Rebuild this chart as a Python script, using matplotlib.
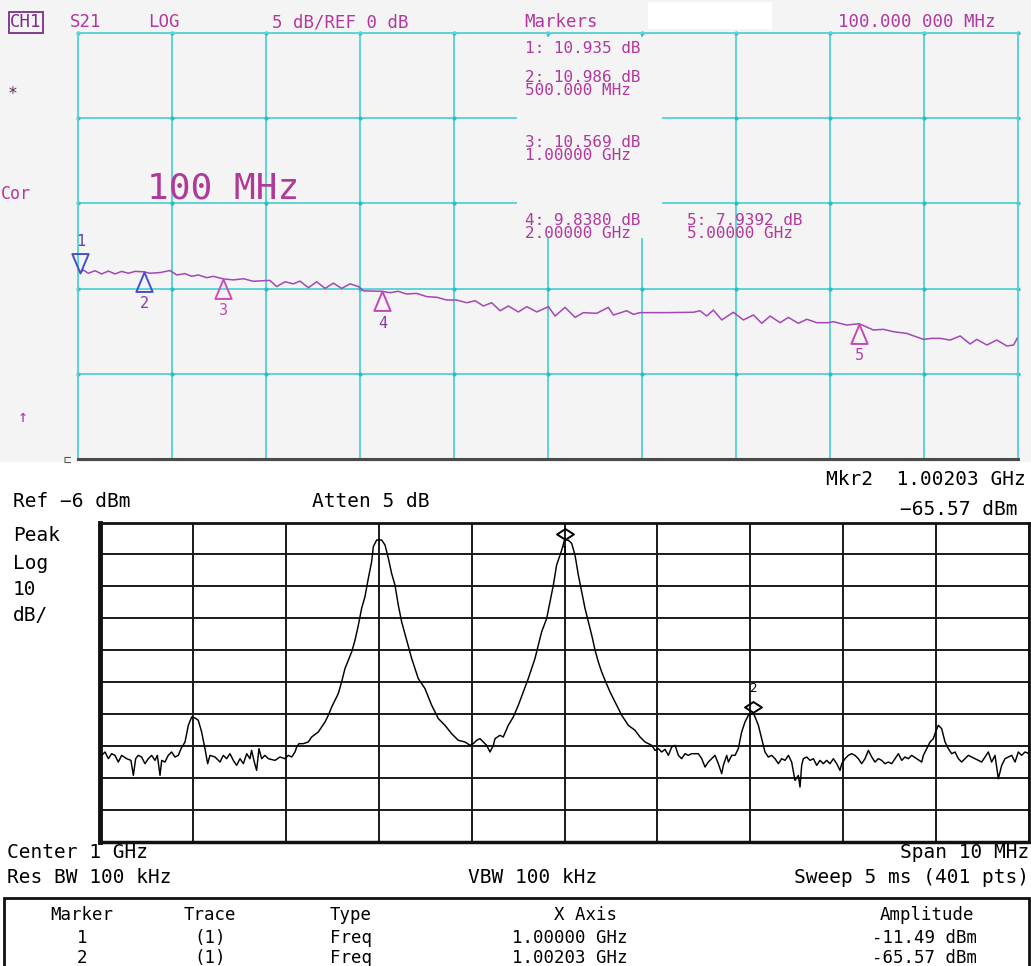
import numpy as np
import matplotlib
matplotlib.use("Agg")
import matplotlib.pyplot as plt
from matplotlib.path import Path
from matplotlib.patches import Rectangle

# ---------------- Network analyzer (S21, LOG) data ----------------
na_freq_ghz = [0.100, 0.119, 0.150, 0.192, 0.234, 0.276, 0.318, 0.360, 0.402, 0.444,
               0.500, 0.538, 0.601, 0.664, 0.706, 0.758, 0.800, 0.842, 0.895, 0.937,
               1.000, 1.063, 1.126, 1.188, 1.262, 1.293, 1.335, 1.388, 1.440, 1.482,
               1.535, 1.587, 1.640, 1.692, 1.744, 1.797, 1.849, 1.881, 2.000, 2.049,
               2.101, 2.153, 2.216, 2.279, 2.342, 2.405, 2.468, 2.531, 2.584, 2.636,
               2.688, 2.741, 2.793, 2.856, 2.909, 2.972, 3.045, 3.087, 3.150, 3.213,
               3.265, 3.349, 3.422, 3.454, 3.538, 3.580, 3.622, 3.790, 3.957, 3.999,
               4.041, 4.083, 4.136, 4.209, 4.272, 4.335, 4.388, 4.440, 4.503, 4.555,
               4.618, 4.671, 4.734, 4.807, 4.838, 4.922, 5.000, 5.090, 5.153, 5.216,
               5.300, 5.405, 5.458, 5.510, 5.573, 5.636, 5.699, 5.741, 5.804, 5.867,
               5.930, 5.972, 5.995]
na_s21_db = [10.935, 11.09, 10.90, 11.05, 10.86, 11.03, 10.86, 11.01, 10.90, 11.01,
             10.986, 10.90, 10.94, 11.06, 10.80, 10.88, 10.72, 10.80, 10.64, 10.72,
             10.569, 10.51, 10.58, 10.43, 10.47, 10.48, 10.12, 10.40, 10.28, 10.44,
             10.05, 10.40, 10.01, 10.32, 10.01, 10.28, 10.12, 9.87, 9.838, 9.76,
             9.84, 9.68, 9.72, 9.53, 9.49, 9.33, 9.33, 9.17, 9.29, 8.98,
             9.17, 8.70, 8.98, 8.63, 8.94, 8.63, 8.94, 8.39, 8.90, 8.31,
             8.59, 8.55, 8.90, 8.45, 8.70, 8.49, 8.59, 8.59, 8.61, 8.70,
             8.39, 8.74, 8.16, 8.61, 8.16, 8.45, 7.96, 8.39, 8.00, 8.31,
             7.96, 8.20, 8.00, 8.00, 8.06, 7.86, 7.9392, 7.57, 7.61, 7.47,
             7.37, 7.02, 7.08, 7.08, 6.98, 7.22, 6.75, 7.02, 6.69, 6.98,
             6.63, 6.69, 7.08]
na_marker_freq_ghz = [0.1, 0.5, 1.0, 2.0, 5.0]
na_marker_db = [10.935, 10.986, 10.569, 9.838, 7.9392]
na_scale_db_div = 5
na_ref_db = 0

# ---------------- Spectrum analyzer data ----------------
sa_freq_mhz = [995.000, 995.018, 995.054, 995.090, 995.125, 995.161, 995.197, 995.233, 995.287, 995.333,
               995.359, 995.384, 995.412, 995.448, 995.484, 995.520, 995.556, 995.592, 995.617, 995.646,
               995.664, 995.699, 995.735, 995.771, 995.807, 995.843, 995.872, 995.915, 995.951, 995.987,
               996.022, 996.058, 996.094, 996.130, 996.159, 996.184, 996.238, 996.292, 996.327, 996.363,
               996.399, 996.435, 996.471, 996.507, 996.543, 996.579, 996.614, 996.632, 996.661, 996.686,
               996.711, 996.740, 996.776, 996.812, 996.884, 996.937, 996.991, 997.027, 997.063, 997.099,
               997.117, 997.142, 997.189, 997.242, 997.278, 997.350, 997.422, 997.458, 997.494, 997.529,
               997.565, 997.601, 997.637, 997.673, 997.709, 997.745, 997.781, 997.816, 997.852, 997.888,
               997.924, 997.942, 997.978, 998.032, 998.068, 998.104, 998.139, 998.175, 998.211, 998.247,
               998.301, 998.355, 998.426, 998.498, 998.570, 998.642, 998.713, 998.785, 998.857, 998.929,
               998.983, 999.018, 999.054, 999.090, 999.126, 999.162, 999.198, 999.234, 999.252, 999.305,
               999.341, 999.395, 999.449, 999.503, 999.557, 999.610, 999.646, 999.682, 999.718, 999.754,
               999.808, 999.844, 999.880, 999.915, 999.970, 1000.000, 1000.042, 1000.077, 1000.113, 1000.149,
               1000.185, 1000.221, 1000.257, 1000.293, 1000.329, 1000.364, 1000.400, 1000.436, 1000.490, 1000.544,
               1000.616, 1000.687, 1000.759, 1000.813, 1000.867, 1000.939, 1000.974, 1001.010, 1001.046, 1001.082,
               1001.118, 1001.154, 1001.190, 1001.226, 1001.261, 1001.297, 1001.333, 1001.369, 1001.405, 1001.441,
               1001.477, 1001.513, 1001.548, 1001.584, 1001.620, 1001.656, 1001.692, 1001.710, 1001.746, 1001.764,
               1001.800, 1001.836, 1001.871, 1001.907, 1001.943, 1001.979, 1002.030, 1002.051, 1002.087, 1002.123,
               1002.158, 1002.194, 1002.230, 1002.266, 1002.302, 1002.338, 1002.374, 1002.410, 1002.445, 1002.481,
               1002.517, 1002.535, 1002.553, 1002.571, 1002.607, 1002.643, 1002.679, 1002.715, 1002.750, 1002.786,
               1002.822, 1002.858, 1002.894, 1002.930, 1002.966, 1002.984, 1003.020, 1003.055, 1003.091, 1003.127,
               1003.163, 1003.199, 1003.235, 1003.271, 1003.307, 1003.342, 1003.378, 1003.414, 1003.450, 1003.486,
               1003.522, 1003.558, 1003.594, 1003.630, 1003.665, 1003.701, 1003.737, 1003.791, 1003.845, 1003.863,
               1003.899, 1003.935, 1003.970, 1003.988, 1004.024, 1004.060, 1004.096, 1004.132, 1004.168, 1004.204,
               1004.240, 1004.275, 1004.311, 1004.347, 1004.383, 1004.419, 1004.455, 1004.491, 1004.527, 1004.562,
               1004.598, 1004.634, 1004.670, 1004.706, 1004.742, 1004.778, 1004.814, 1004.850, 1004.885, 1004.921,
               1004.957, 1005.000]
sa_level_dbm = [-78.90, -78.88, -77.83, -79.92, -78.36, -78.88, -80.97, -78.88, -79.92, -80.45,
                -85.15, -79.92, -78.88, -79.40, -81.49, -79.92, -78.88, -80.45, -78.88, -85.15,
                -80.45, -80.97, -78.88, -77.83, -79.40, -78.88, -76.79, -74.70, -69.47, -66.86,
                -67.17, -67.91, -71.56, -76.79, -81.49, -78.88, -79.40, -80.97, -78.88, -79.92,
                -78.36, -80.45, -82.01, -79.92, -81.49, -78.36, -79.92, -77.31, -80.97, -83.58,
                -76.79, -79.92, -78.88, -79.92, -80.45, -79.40, -79.92, -78.88, -79.40, -77.83,
                -76.27, -75.22, -75.22, -74.70, -73.13, -71.56, -68.43, -66.34, -63.73, -61.64,
                -59.55, -55.89, -51.71, -49.10, -46.49, -42.83, -38.13, -32.90, -29.25, -23.50,
                -18.27, -13.57, -11.48, -11.48, -13.05, -17.23, -21.93, -25.59, -31.86, -37.08,
                -42.83, -48.58, -54.85, -57.98, -63.20, -67.38, -69.47, -72.09, -74.18, -74.70,
                -75.74, -75.22, -74.18, -73.65, -74.70, -75.74, -77.83, -75.74, -73.65, -72.61,
                -73.13, -69.47, -66.86, -63.20, -59.02, -54.85, -51.71, -48.58, -44.40, -40.22,
                -36.04, -30.81, -25.59, -19.32, -14.62, -11.49, -11.55, -12.53, -16.18, -22.45,
                -27.68, -32.90, -37.08, -41.26, -45.96, -49.62, -52.76, -55.37, -59.03, -62.16,
                -66.34, -69.47, -71.04, -73.13, -74.70, -75.74, -77.31, -76.79, -77.83, -77.00,
                -78.88, -76.27, -75.74, -78.88, -79.92, -78.36, -78.88, -78.36, -78.36, -78.36,
                -79.92, -82.54, -80.97, -79.92, -78.88, -81.49, -84.62, -82.01, -78.88, -80.97,
                -78.88, -78.88, -76.79, -71.56, -68.43, -66.34, -65.57, -66.86, -69.47, -73.65,
                -77.83, -79.40, -78.88, -79.92, -81.49, -79.92, -80.45, -78.88, -80.97, -86.71,
                -85.15, -88.80, -82.01, -79.92, -79.40, -80.45, -79.92, -82.01, -80.45, -81.49,
                -80.45, -81.49, -79.92, -81.49, -83.58, -81.49, -79.92, -78.88, -78.36, -78.88,
                -79.92, -81.49, -79.92, -77.31, -79.40, -80.97, -79.92, -80.45, -81.49, -80.97,
                -81.49, -79.92, -78.36, -80.45, -79.40, -79.92, -78.88, -79.92, -80.97, -78.88,
                -76.79, -74.70, -73.65, -72.09, -69.47, -70.52, -74.70, -76.79, -78.36, -77.83,
                -79.92, -80.97, -79.92, -78.88, -79.40, -79.92, -80.45, -80.97, -79.40, -77.83,
                -80.97, -78.88, -86.19, -82.01, -79.92, -79.40, -78.88, -80.97, -77.83, -78.88,
                -77.83, -78.36]
sa_marker_freq_mhz = [1000.00, 1002.03]
sa_marker_dbm = [-11.49, -65.57]
sa_ref_dbm = -6
sa_db_div = 10
sa_center_mhz = 1000
sa_span_mhz = 10

# ---------------- figure helpers ----------------
W, H, DPI = 1031, 966, 100
MONO = "DejaVu Sans Mono"
CYAN = "#5cd4d6"
MAG = "#b2379f"
TRACE = "#a347b6"

fig = plt.figure(figsize=(W / DPI, H / DPI), dpi=DPI)
fig.patch.set_facecolor("white")


def fx(x):
    return x / W


def fy(y):
    return 1 - y / H


def put(x, yc, s, size, color, ha="left", **kw):
    """Place text so that the cap-height centre of its (last) line sits at pixel row yc."""
    px = size * DPI / 72.0
    yb = yc + 0.365 * px
    return fig.text(fx(x), fy(yb), s, fontsize=size, color=color, ha=ha,
                    va="baseline", family=MONO, **kw)


def minus(s):
    return s.replace("-", "\u2212")


# ================= Network analyzer screen =================
fig.add_artist(Rectangle((0, fy(462)), 1, 462 / H, transform=fig.transFigure,
                         facecolor="#f4f4f4", edgecolor="none", zorder=-5))
fig.add_artist(Rectangle((fx(648), fy(29)), (772 - 648) / W, 27 / H, transform=fig.transFigure,
                         facecolor="white", edgecolor="none", zorder=-4))

ax1 = fig.add_axes([fx(78), fy(459), (1018 - 78) / W, (459 - 33) / H])
ax1.set_facecolor("none")
NA_XLIM = (0.085, 6.0)
ax1.set_xlim(*NA_XLIM)
ax1.set_ylim(na_ref_db, na_ref_db + 5 * na_scale_db_div)
xt = np.linspace(NA_XLIM[0], NA_XLIM[1], 11)
yt = np.arange(na_ref_db, na_ref_db + 5 * na_scale_db_div + 1, na_scale_db_div)
ax1.set_xticks(xt)
ax1.set_yticks(yt)
ax1.tick_params(length=0, labelbottom=False, labelleft=False)
ax1.grid(True, color=CYAN, lw=1.4)
for s in ("left", "right", "top"):
    ax1.spines[s].set_color(CYAN)
    ax1.spines[s].set_linewidth(1.4)
ax1.spines["bottom"].set_color("#4a4a4a")
ax1.spines["bottom"].set_linewidth(2.2)
gx, gy = np.meshgrid(xt, yt[1:])
ax1.scatter(gx.ravel(), gy.ravel(), s=9, color="#25bfc4", linewidths=0, zorder=2, clip_on=False)
ax1.plot(na_freq_ghz, na_s21_db, color=TRACE, lw=1.1, zorder=3)

tri_down = Path([(0, 0), (-0.42, 1), (0.42, 1), (0, 0)],
                [Path.MOVETO, Path.LINETO, Path.LINETO, Path.CLOSEPOLY])
tri_up = Path([(0, 0), (-0.42, -1), (0.42, -1), (0, 0)],
              [Path.MOVETO, Path.LINETO, Path.LINETO, Path.CLOSEPOLY])
mk_edge = ["#4450c4", "#4450c4", "#cc4cbc", "#c447b8", "#c447b8"]
mk_text = ["#5b3db4", "#8a3aa6", "#c44cb8", "#8a3aa6", "#b040b0"]
for i, (f, v) in enumerate(zip(na_marker_freq_ghz, na_marker_db)):
    above = (i == 0)
    ax1.plot([f], [v], marker=tri_down if above else tri_up, ms=28, mfc="none",
             mec=mk_edge[i], mew=1.4, zorder=4, clip_on=False)
    ax1.annotate(str(i + 1), xy=(f, v), xytext=(0, 22.5 if above else -23),
                 textcoords="offset points", ha="center", va="center", fontsize=11,
                 family=MONO, color=mk_text[i], zorder=5, annotation_clip=False)

# blank area behind the marker readout list
fig.add_artist(Rectangle((fx(517), fy(238)), (662 - 517) / W, (238 - 37) / H,
                         transform=fig.transFigure, facecolor="#f4f4f4",
                         edgecolor="none", zorder=1))


def fmt_db(v):
    return f"{v:.3f}" if abs(v) >= 10 else f"{v:.4f}"


def fmt_f(g):
    return f"{g * 1000:.3f} MHz" if g < 1 else f"{g:.5f} GHz"


LINE_PITCH = 13
readout_pos = [(525, 47), (525, 76), (525, 141), (525, 219), (687, 219)]
for i, (f, v) in enumerate(zip(na_marker_freq_ghz, na_marker_db)):
    x, y1 = readout_pos[i]
    s = f"{i + 1}: {fmt_db(v)} dB"
    if i > 0:
        s += "\n" + fmt_f(f)
        put(x, y1 + LINE_PITCH, s, 11.5, MAG, linespacing=0.82)
    else:
        put(x, y1, s, 11.5, MAG)

put(10, 21, "CH1", 12.5, "#7a2f86",
    bbox=dict(boxstyle="square,pad=0.08", fc="none", ec="#7a2f86", lw=1.3))
put(70, 21, "S21", 12.5, MAG)
put(148, 21, "LOG", 12.5, MAG)
put(272, 21, f"{na_scale_db_div} dB/REF {na_ref_db} dB", 12.5, MAG)
put(524, 21, "Markers", 12.5, MAG)
put(995, 21, f"{na_marker_freq_ghz[0] * 1000:.3f} 000 MHz", 12.5, MAG, ha="right")
put(147, 185, "100 MHz", 26, "#b03a9a")
put(8, 93, "*", 12, "#5a2a5a")
put(1, 193, "Cor", 12, MAG)
put(18, 416, "\u2191", 12, MAG)
put(64, 459, "\u228f", 9, "#555555")

# ================= Spectrum analyzer screen =================
ax2 = fig.add_axes([fx(100), fy(842), (1029 - 100) / W, (842 - 522.5) / H])
ax2.set_facecolor("white")
ax2.set_xlim(sa_center_mhz - sa_span_mhz / 2, sa_center_mhz + sa_span_mhz / 2)
ax2.set_ylim(sa_ref_dbm - 10 * sa_db_div, sa_ref_dbm)
ax2.set_xticks(np.linspace(sa_center_mhz - sa_span_mhz / 2, sa_center_mhz + sa_span_mhz / 2, 11))
ax2.set_yticks(np.arange(sa_ref_dbm - 10 * sa_db_div, sa_ref_dbm + 1, sa_db_div))
ax2.tick_params(length=0, labelbottom=False, labelleft=False)
ax2.grid(True, color="#1a1a1a", lw=1.4)
for s, lw in (("left", 3.5), ("top", 2.0), ("right", 2.0), ("bottom", 2.5)):
    ax2.spines[s].set_color("#111111")
    ax2.spines[s].set_linewidth(lw)
ax2.plot(sa_freq_mhz, sa_level_dbm, color="black", lw=1.05, zorder=3)

diamond = Path([(0, 0.08), (1, 0.72), (0, 1.36), (-1, 0.72), (0, 0.08)],
               [Path.MOVETO, Path.LINETO, Path.LINETO, Path.LINETO, Path.CLOSEPOLY])
for i, (f, v) in enumerate(zip(sa_marker_freq_mhz, sa_marker_dbm)):
    ax2.plot([f], [v], marker=diamond, ms=16.5, mfc="none", mec="black", mew=1.4,
             zorder=4, clip_on=False)
    ax2.annotate(str(i + 1), xy=(f, v), xytext=(0, -8 if i == 0 else 17.5),
                 textcoords="offset points", ha="center", va="center", fontsize=9,
                 family=MONO, color="black", zorder=5)

SA = 14
put(1026, 478, f"Mkr2  {sa_marker_freq_mhz[1] / 1000:.5f} GHz", SA, "black", ha="right")
put(1017, 508, minus(f"{sa_marker_dbm[1]:.2f} dBm"), SA, "black", ha="right")
put(13, 500, minus(f"Ref {sa_ref_dbm} dBm"), SA, "black")
put(312, 500, "Atten 5 dB", SA, "black")
put(13, 534, "Peak", SA, "black")
put(13, 562, "Log", SA, "black")
put(13, 588, f"{sa_db_div}", SA, "black")
put(13, 614, "dB/", SA, "black")
put(7, 851, f"Center {sa_center_mhz / 1000:g} GHz", SA, "black")
put(1029, 851, f"Span {sa_span_mhz} MHz", SA, "black", ha="right")
put(7, 876, "Res BW 100 kHz", SA, "black")
put(468, 876, "VBW 100 kHz", SA, "black")
put(1029, 876, "Sweep 5 ms (401 pts)", SA, "black", ha="right")

fig.add_artist(Rectangle((fx(4), fy(975)), (1029 - 4) / W, (975 - 898) / H,
                         transform=fig.transFigure, fill=False, edgecolor="#111111", lw=2))
TB = 12.5
put(82, 914, "Marker", TB, "black", ha="center")
put(210, 914, "Trace", TB, "black", ha="center")
put(330, 914, "Type", TB, "black")
put(585, 914, "X Axis", TB, "black", ha="center")
put(927, 914, "Amplitude", TB, "black", ha="center")
for i, (f, v) in enumerate(zip(sa_marker_freq_mhz, sa_marker_dbm)):
    yc = 937 + 20 * i
    put(82, yc, str(i + 1), TB, "black", ha="center")
    put(210, yc, "(1)", TB, "black", ha="center")
    put(330, yc, "Freq", TB, "black")
    put(570, yc, f"{f / 1000:.5f} GHz", TB, "black", ha="center")
    put(925, yc, f"{v:.2f} dBm", TB, "black", ha="center")

fig.savefig("out.png", dpi=DPI, facecolor=fig.get_facecolor())
